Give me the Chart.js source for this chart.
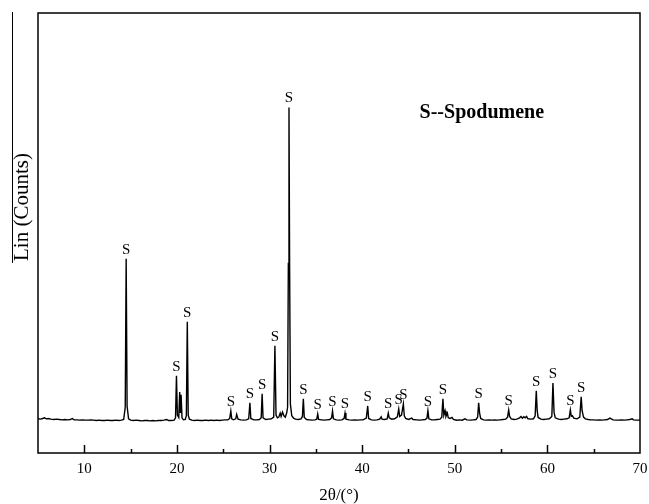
<!DOCTYPE html>
<html>
<head>
<meta charset="utf-8">
<script src="https://cdn.jsdelivr.net/npm/chart.js@4.4.1/dist/chart.umd.min.js"></script>
<style>
  body { margin: 0; background: #fff; }
  #wrap { width: 649px; height: 504px; }
</style>
</head>
<body>
<div id="wrap"><canvas id="canvasGrafico"></canvas></div>
<script>
// 2theta positions (deg) and intensities
const twoTheta = [
  5.0, 5.3, 5.5, 5.7, 5.9, 6.1, 6.4, 6.7, 7.0, 7.3,
  7.6, 7.9, 8.2, 8.5, 8.7, 8.9, 9.2, 9.5, 9.8, 10.1,
  10.4, 10.7, 11.0, 11.3, 11.6, 11.9, 12.2, 12.5, 12.8, 13.1,
  13.4, 13.7, 14.0, 14.25, 14.42, 14.52, 14.62, 14.78, 15.0, 15.3,
  15.6, 15.9, 16.2, 16.5, 16.8, 17.1, 17.4, 17.7, 18.0, 18.3,
  18.6, 18.9, 19.1, 19.4, 19.7, 19.85, 19.95, 20.05, 20.2, 20.3,
  20.38, 20.45, 20.55, 20.7, 20.9, 21.02, 21.12, 21.22, 21.35, 21.6,
  21.9, 22.2, 22.5, 22.8, 23.1, 23.4, 23.7, 24.0, 24.3, 24.6,
  24.9, 25.2, 25.5, 25.7, 25.82, 25.92, 26.1, 26.35, 26.45, 26.6,
  26.9, 27.2, 27.5, 27.75, 27.88, 27.98, 28.3, 28.6, 28.9, 29.1,
  29.2, 29.3, 29.6, 29.9, 30.2, 30.45, 30.58, 30.7, 30.85, 31.0,
  31.15, 31.25, 31.4, 31.55, 31.7, 31.85, 31.95, 32.03, 32.1, 32.17,
  32.25, 32.4, 32.6, 32.8, 33.1, 33.4, 33.55, 33.65, 33.75, 34.0,
  34.3, 34.6, 34.9, 35.1, 35.2, 35.3, 35.6, 35.9, 36.2, 36.5,
  36.7, 36.8, 36.9, 37.2, 37.5, 37.8, 38.05, 38.15, 38.25, 38.6,
  38.9, 39.2, 39.5, 39.8, 40.1, 40.45, 40.6, 40.7, 41.0, 41.3,
  41.6, 41.9, 42.05, 42.15, 42.4, 42.7, 42.82, 42.92, 43.2, 43.5,
  43.8, 43.95, 44.05, 44.25, 44.45, 44.55, 44.7, 45.0, 45.35, 45.5,
  45.9, 46.2, 46.5, 46.8, 47.0, 47.1, 47.2, 47.5, 47.8, 48.1,
  48.4, 48.6, 48.72, 48.82, 48.95, 49.05, 49.2, 49.3, 49.5, 49.7,
  49.85, 50.2, 50.5, 50.8, 51.1, 51.3, 51.7, 52.0, 52.3, 52.47,
  52.58, 52.68, 52.8, 53.1, 53.4, 53.7, 54.0, 54.3, 54.6, 54.9,
  55.2, 55.5, 55.7, 55.82, 55.92, 56.1, 56.4, 56.7, 57.0, 57.15,
  57.3, 57.45, 57.6, 57.75, 57.9, 58.2, 58.5, 58.68, 58.8, 58.9,
  59.0, 59.3, 59.6, 59.9, 60.2, 60.48, 60.6, 60.72, 60.85, 61.2,
  61.5, 61.8, 62.1, 62.35, 62.48, 62.58, 62.7, 62.85, 63.2, 63.5,
  63.65, 63.75, 63.9, 64.1, 64.4, 64.7, 65.0, 65.3, 65.6, 65.9,
  66.2, 66.5, 66.75, 66.9, 67.1, 67.4, 67.7, 68.0, 68.3, 68.6,
  68.9, 69.15, 69.3, 69.6, 70.0
];
const counts = [
  101, 100, 102, 104, 101, 102, 100, 99, 100, 99,
  98, 99, 98, 99, 102, 98, 98, 97, 98, 97,
  97, 98, 97, 96, 97, 96, 96, 97, 96, 96,
  97, 96, 97, 99, 135, 574, 138, 101, 97, 96,
  97, 96, 95, 96, 96, 95, 96, 95, 96, 96,
  97, 99, 96, 96, 97, 104, 228, 112, 105, 180,
  118, 172, 104, 98, 99, 110, 388, 112, 100, 97,
  96, 97, 96, 96, 97, 96, 97, 96, 97, 96,
  97, 98, 98, 102, 124, 101, 98, 101, 114, 100,
  98, 97, 98, 101, 148, 102, 98, 98, 99, 104,
  175, 104, 99, 100, 101, 106, 317, 112, 104, 106,
  118, 108, 121, 110, 106, 118, 135, 560, 1021, 540,
  145, 110, 103, 100, 99, 101, 108, 160, 105, 99,
  98, 97, 98, 100, 115, 99, 98, 97, 98, 99,
  104, 124, 101, 98, 97, 98, 102, 118, 100, 98,
  97, 98, 97, 98, 98, 103, 139, 102, 98, 97,
  98, 100, 107, 100, 99, 101, 118, 104, 100, 101,
  107, 130, 108, 112, 145, 110, 102, 99, 103, 99,
  98, 97, 98, 99, 103, 125, 101, 98, 98, 99,
  100, 106, 160, 112, 125, 108, 118, 104, 102, 105,
  99, 97, 98, 97, 101, 98, 97, 98, 99, 106,
  148, 118, 102, 98, 97, 98, 97, 98, 97, 98,
  99, 100, 106, 127, 108, 101, 99, 100, 104, 108,
  103, 107, 104, 108, 101, 100, 101, 110, 184, 125,
  105, 100, 99, 100, 101, 108, 207, 120, 104, 100,
  99, 100, 101, 104, 127, 108, 110, 103, 101, 106,
  166, 125, 106, 101, 99, 98, 98, 97, 98, 97,
  98, 99, 103, 101, 98, 97, 97, 98, 97, 98,
  99, 101, 98, 97, 97
];
// peaks marked "S" (spodumene)
const spodumenePeaks = [
  14.52, 19.95, 21.12, 25.82, 27.88, 29.2, 30.58, 32.1, 33.65, 35.2,
  36.8, 38.15, 40.6, 42.82, 43.95, 44.45, 47.1, 48.72, 52.58, 55.82,
  58.8, 60.6, 62.48, 63.65
];
const xMin = 5;
const xMax = 70;
const yMax = 1300;

const serif = '"Liberation Serif", "Times New Roman", serif';

const pontos = twoTheta.map((t, i) => ({ x: t, y: counts[i] }));

const extras = {
  id: 'extras',
  afterDraw(chart) {
    const { ctx, chartArea, scales: { x, y } } = chart;
    ctx.save();
    ctx.fillStyle = '#000';
    ctx.strokeStyle = '#000';

    // peak labels
    ctx.font = '15px ' + serif;
    ctx.textAlign = 'center';
    ctx.textBaseline = 'alphabetic';
    spodumenePeaks.forEach(p => {
      let top = 0;
      twoTheta.forEach((t, i) => {
        if (Math.abs(t - p) < 0.06 && counts[i] > top) top = counts[i];
      });
      ctx.fillText('S', x.getPixelForValue(p), y.getPixelForValue(top) - 5);
    });

    // legend text
    ctx.font = 'bold 20px ' + serif;
    ctx.textAlign = 'left';
    ctx.textBaseline = 'middle';
    ctx.fillText('S--Spodumene', x.getPixelForValue(46.2), y.getPixelForValue(1004));

    // frame
    ctx.lineWidth = 1.5;
    ctx.strokeRect(chartArea.left, chartArea.top, chartArea.right - chartArea.left, chartArea.bottom - chartArea.top);

    // inward ticks on the bottom axis
    x.ticks.forEach(tk => {
      if (tk.value <= xMin || tk.value >= xMax) return;
      const px = Math.round(x.getPixelForValue(tk.value)) + 0.5;
      const len = tk.value % 10 === 0 ? 8 : 4;
      ctx.beginPath();
      ctx.moveTo(px, chartArea.bottom);
      ctx.lineTo(px, chartArea.bottom - len);
      ctx.stroke();
    });

    // y title
    ctx.font = '21px ' + serif;
    ctx.textAlign = 'center';
    ctx.textBaseline = 'middle';
    ctx.translate(22, 207);
    ctx.rotate(-Math.PI / 2);
    ctx.fillText('Lin (Counts)', 0, 0);
    ctx.restore();

    ctx.save();
    ctx.lineWidth = 1;
    ctx.beginPath();
    ctx.moveTo(12.5, chartArea.top - 1);
    ctx.lineTo(12.5, 263);
    ctx.stroke();
    ctx.restore();
  }
};

const config = {
  type: 'line',
  data: {
    datasets: [{
      data: pontos,
      borderColor: '#000',
      borderWidth: 1.4,
      pointRadius: 0,
      tension: 0,
      fill: false
    }]
  },
  options: {
    responsive: true,
    maintainAspectRatio: false,
    animation: false,
    layout: { padding: { left: 38, top: 13, right: 9, bottom: 0 } },
    plugins: { legend: { display: false }, tooltip: { enabled: false } },
    scales: {
      x: {
        type: 'linear',
        min: xMin,
        max: xMax,
        grid: { display: false, drawTicks: false },
        border: { display: false },
        afterFit: scale => { scale.paddingRight = 0; scale.paddingLeft = 0; },
        ticks: {
          stepSize: 5,
          autoSkip: false,
          maxRotation: 0,
          padding: 7,
          color: '#000',
          font: { family: serif, size: 15, lineHeight: 1.2 },
          callback: v => (v % 10 === 0 ? String(v) : '')
        },
        title: {
          display: true,
          text: '2θ/(°)',
          color: '#000',
          font: { family: serif, size: 17, lineHeight: 1.0 },
          padding: { top: 2, bottom: 0 }
        }
      },
      y: {
        display: false,
        min: 0,
        max: yMax
      }
    }
  },
  plugins: [extras]
};

const graficoDash = new Chart(document.getElementById('canvasGrafico'), config);
</script>
</body>
</html>
